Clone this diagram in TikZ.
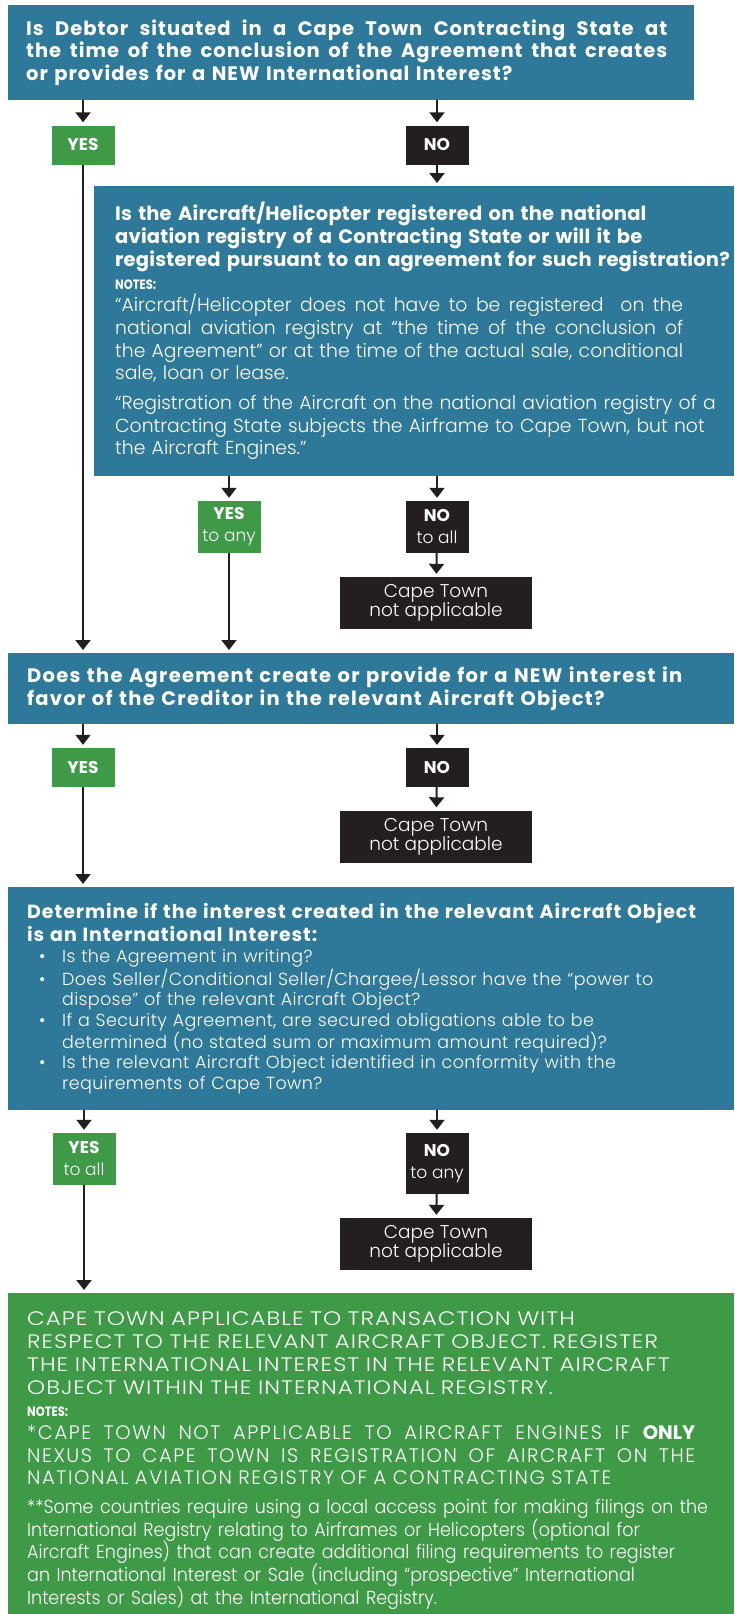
\documentclass[tikz,border=0pt]{standalone}
\usepackage{fontspec}
\setmainfont{Poppins}
\newfontfamily\boldface{Poppins Bold}
\newfontfamily\boldwide{Poppins Bold}[LetterSpace=5]
\newfontfamily\boldwider{Poppins Bold}[LetterSpace=6.5]
\newfontfamily\boldhead{Poppins Bold}[LetterSpace=1]
\newfontfamily\boldnarrow{Poppins Bold}[FakeStretch=0.85]
\newfontfamily\lightface{Poppins Light}
\newfontfamily\lightslim{Poppins Light}[FakeStretch=0.93]
\newfontfamily\lightspaced{Poppins Light}[LetterSpace=2]
\newfontfamily\lightcaps{Poppins Light}[FakeStretch=1.18, LetterSpace=5]
\newfontfamily\lightnotes{Poppins Light}[LetterSpace=8]
\usetikzlibrary{arrows.meta}

\definecolor{capeblue}{RGB}{46,120,153}
\definecolor{capegreen}{RGB}{63,154,71}
\definecolor{capeblack}{RGB}{35,31,32}

% font sizes, 1pt = 1px of the chart
\newcommand\qwide{\boldwide\fontsize{19.5}{22.7}\selectfont}
\newcommand\qwider{\boldwider\fontsize{19.5}{22.7}\selectfont}
\newcommand\headfont{\boldhead\fontsize{19.5}{22.7}\selectfont}
\newcommand\headsmall{\boldwide\fontsize{19}{20.5}\selectfont}
\newcommand\notesfont{\boldnarrow\fontsize{13.5}{22.7}\selectfont}
\newcommand\bodyfont{\lightface\fontsize{18.8}{22.7}\selectfont}
\newcommand\slimfont{\lightslim\fontsize{18.8}{22.7}\selectfont}
\newcommand\bulletfont{\lightspaced\fontsize{17.5}{20.5}\selectfont}
\newcommand\capsfont{\lightcaps\fontsize{19.5}{22.7}\selectfont}
\newcommand\capsnotes{\lightnotes\fontsize{19.5}{22.7}\selectfont}
\newcommand\yesnofont{\boldface\fontsize{17}{22}\selectfont}
\newcommand\thinfont{\lightface\fontsize{17}{22}\selectfont}
\newcommand\ctfont{\lightface\fontsize{18.5}{19}\selectfont}

% one justified line of a given width
\newcommand\fillline[2]{\makebox[#1][s]{%
  \spaceskip=\fontdimen2\font plus 1fil minus .4\fontdimen2\font\relax #2}}
\newcommand\bul{\makebox[35pt][l]{\hspace*{12pt}•}}
\newcommand\bulgap{\hspace*{35pt}}

\tikzset{
  qbox/.style={fill=capeblue, text=white, anchor=north west, align=left, inner ysep=0pt},
  endbox/.style={qbox, fill=capegreen},
  yesbox/.style={fill=capegreen, text=white, minimum width=63pt, inner sep=0pt,
    align=center, font=\yesnofont},
  nobox/.style={yesbox, fill=capeblack},
  ctbox/.style={fill=capeblack, text=white, minimum width=192pt, minimum height=52pt,
    inner sep=0pt, align=center, font=\ctfont},
  flowarrow/.style={draw=capeblack, line width=2pt, shorten >=3pt,
    -{Triangle[width=15pt,length=10pt]}},
}

\begin{document}
\begin{tikzpicture}[x=1pt, y=-1pt]
\useasboundingbox (0,0) rectangle (734,1614);

% debtor question
\node[qbox, minimum width=686pt, minimum height=95pt, text width=650pt, inner xsep=18pt,
  font=\qwide] (q1) at (8,5)
  {\fillline{641pt}{Is Debtor situated in a Cape Town Contracting State at}\\
   \fillline{641pt}{the time of the conclusion of the Agreement that creates}\\
   or provides for a NEW International Interest?};
\node[yesbox, minimum height=39pt] (yes1) at (83,145) {YES};
\node[nobox, minimum height=39pt] (no1) at (437,145) {NO};

% registry question
\node[qbox, minimum width=640pt, minimum height=290pt, text width=598pt, inner xsep=21pt,
  font=\bodyfont] (q2) at (94,186)
  {\mbox{\headfont Is the Aircraft/Helicopter registered on the national}\\
   \mbox{\headfont aviation registry of a Contracting State or will it be}\\
   \mbox{\headfont registered pursuant to an agreement for such registration?}\\
   {\notesfont NOTES:}\\
   \fillline{568pt}{“Aircraft/Helicopter does not have to be registered\ \ on the}\\
   \fillline{568pt}{national aviation registry at “the time of the conclusion of}\\
   \fillline{568pt}{the Agreement” or at the time of the actual sale, conditional}\\
   sale, loan or lease.\\[7pt]
   \mbox{“Registration of the Aircraft on the national aviation registry of a}\\
   \mbox{Contracting State subjects the Airframe to Cape Town, but not}\\
   the Aircraft Engines.”};
\node[yesbox, minimum height=52pt] (yes2) at (229,527) {YES\\{\thinfont to any}};
\node[nobox, minimum height=52pt] (no2) at (437,527) {NO\\{\thinfont to all}};
\node[ctbox] (ct1) at (436,603) {Cape Town\\not applicable};

% new interest question
\node[qbox, minimum width=726pt, minimum height=71pt, text width=688pt, inner xsep=19pt,
  font=\qwider] (q3) at (8,653)
  {Does the Agreement create or provide for a NEW interest in\\
   favor of the Creditor in the relevant Aircraft Object?};
\node[yesbox, minimum height=39pt] (yes3) at (83,767.5) {YES};
\node[nobox, minimum height=39pt] (no3) at (437,767.5) {NO};
\node[ctbox] (ct2) at (436,836.5) {Cape Town\\not applicable};

% international interest checks
\node[qbox, minimum width=726pt, minimum height=223pt, text width=688pt, inner xsep=19pt,
  font=\bulletfont] (q4) at (8,887)
  {\mbox{\headsmall Determine if the interest created in the relevant Aircraft Object}\\[2.5pt]
   {\headsmall is an International Interest:}\\[0.5pt]
   \bul Is the Agreement in writing?\\
   \bul Does Seller/Conditional Seller/Chargee/Lessor have the “power to\\
   \bulgap dispose” of the relevant Aircraft Object?\\
   \bul If a Security Agreement, are secured obligations able to be\\
   \bulgap determined (no stated sum or maximum amount required)?\\
   \bul Is the relevant Aircraft Object identified in conformity with the\\
   \bulgap requirements of Cape Town?};
\node[yesbox, minimum height=52pt] (yes4) at (84,1159) {YES\\{\thinfont to all}};
\node[nobox, minimum height=61pt] (no4) at (437,1163.5) {NO\\{\thinfont to any}};
\node[ctbox] (ct3) at (436,1244) {Cape Town\\not applicable};

% outcome
\node[endbox, minimum width=726pt, minimum height=321pt, text width=688pt, inner xsep=19pt,
  font=\capsfont] (done) at (8,1293)
  {\rule{0pt}{28pt}CAPE TOWN APPLICABLE TO TRANSACTION WITH\\
   \mbox{RESPECT TO THE RELEVANT AIRCRAFT OBJECT. REGISTER}\\
   \mbox{THE INTERNATIONAL INTEREST IN THE RELEVANT AIRCRAFT}\\
   \mbox{OBJECT WITHIN THE INTERNATIONAL REGISTRY.}\\
   {\notesfont NOTES:}\\
   \fillline{668pt}{\capsnotes *CAPE TOWN NOT APPLICABLE TO AIRCRAFT ENGINES IF {\boldface ONLY}}\\
   \fillline{668pt}{\capsnotes NEXUS TO CAPE TOWN IS REGISTRATION OF AIRCRAFT ON THE}\\
   \mbox{\capsnotes NATIONAL AVIATION REGISTRY OF A CONTRACTING STATE}\\[6pt]
   \mbox{\slimfont **Some countries require using a local access point for making filings on the}\\
   \mbox{\slimfont International Registry relating to Airframes or Helicopters (optional for}\\
   \mbox{\slimfont Aircraft Engines) that can create additional filing requirements to register}\\
   \mbox{\slimfont an International Interest or Sale (including “prospective” International}\\
   \mbox{\slimfont Interests or Sales) at the International Registry.}};

% arrows
\draw[flowarrow] (q1.south -| yes1) -- (yes1);
\draw[flowarrow] (q1.south -| no1) -- (no1);
\draw[flowarrow] (no1) -- (no1 |- q2.north);
\draw[flowarrow] (yes1) -- (yes1 |- q3.north);
\draw[flowarrow] (q2.south -| yes2) -- (yes2);
\draw[flowarrow] (q2.south -| no2) -- (no2);
\draw[flowarrow] (no2) -- (ct1);
\draw[flowarrow] (yes2) -- (yes2 |- q3.north);
\draw[flowarrow] (q3.south -| yes3) -- (yes3);
\draw[flowarrow] (q3.south -| no3) -- (no3);
\draw[flowarrow] (no3) -- (ct2);
\draw[flowarrow] (yes3) -- (yes3 |- q4.north);
\draw[flowarrow] (q4.south -| yes4) -- (yes4);
\draw[flowarrow] (q4.south -| no4) -- (no4);
\draw[flowarrow] (no4) -- (ct3);
\draw[flowarrow] (yes4) -- (yes4 |- done.north);
\end{tikzpicture}
\end{document}
